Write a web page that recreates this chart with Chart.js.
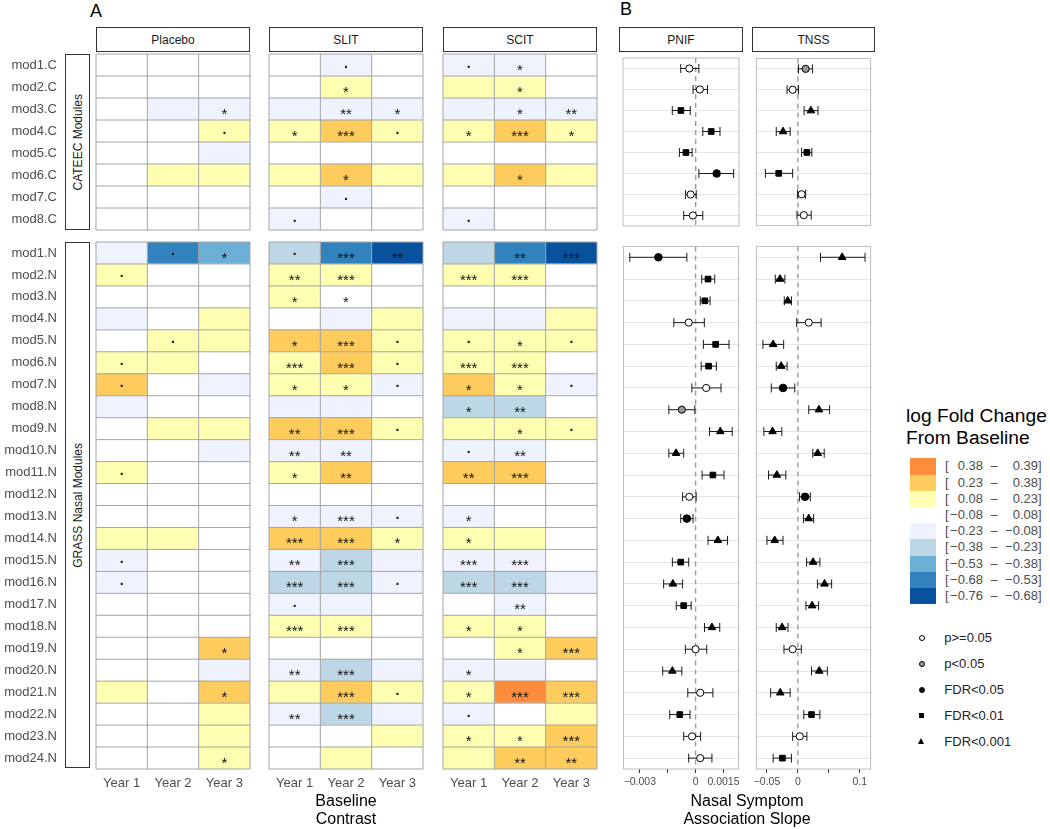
<!DOCTYPE html>
<html lang="en">
<head>
<meta charset="utf-8">
<title>Module fold change heatmap and nasal symptom association</title>
<script src="https://cdn.jsdelivr.net/npm/chart.js@4.4.1/dist/chart.umd.min.js"></script>
<style>
  html, body { margin:0; padding:0; background:#ffffff; }
  body { position:relative; width:1050px; height:829px; overflow:hidden;
         font-family:"Liberation Sans", Arial, Helvetica, sans-serif; }
  canvas { position:absolute; }
  .lbl { position:absolute; white-space:nowrap; }
  .strip { position:absolute; box-sizing:border-box; border:1.2px solid #333; background:#fff;
           display:flex; align-items:center; justify-content:center; font-size:12px; color:#1a1a1a; }
  .vstrip span { writing-mode:vertical-rl; transform:rotate(180deg); }
  .mk { position:absolute; box-sizing:border-box; }
</style>
</head>
<body>
<script>
// ---------------- DATA ----------------
const years = ['Year 1', 'Year 2', 'Year 3'];
const facets = ['Placebo', 'SLIT', 'SCIT'];
const rowsC = ['mod1.C','mod2.C','mod3.C','mod4.C','mod5.C','mod6.C','mod7.C','mod8.C'];
const rowsN = ['mod1.N','mod2.N','mod3.N','mod4.N','mod5.N','mod6.N','mod7.N','mod8.N',
               'mod9.N','mod10.N','mod11.N','mod12.N','mod13.N','mod14.N','mod15.N','mod16.N',
               'mod17.N','mod18.N','mod19.N','mod20.N','mod21.N','mod22.N','mod23.N','mod24.N'];

// log fold change from baseline: rows x [Year 1, Year 2, Year 3]
const placeboC = [
  [0.02, -0.03, 0.01], [0.03, 0.01, -0.02], [0.01, -0.12, -0.16], [0.04, 0.05, 0.14],
  [-0.02, 0.03, -0.10], [0.05, 0.12, 0.11], [0.00, 0.02, -0.03], [-0.04, 0.01, 0.02]];
const slitC = [
  [-0.05, -0.13, -0.02], [0.06, 0.16, 0.04], [-0.10, -0.18, -0.14], [0.15, 0.29, 0.13],
  [0.02, 0.04, 0.03], [0.12, 0.25, 0.10], [-0.03, -0.11, -0.04], [-0.12, -0.05, -0.02]];
const scitC = [
  [-0.11, -0.14, -0.05], [0.10, 0.17, 0.06], [-0.09, -0.16, -0.15], [0.17, 0.31, 0.16],
  [0.03, 0.05, 0.02], [0.11, 0.26, 0.12], [-0.01, 0.02, -0.03], [-0.13, -0.04, -0.01]];
const placeboN = [
  [-0.12, -0.61, -0.47], [0.13, 0.05, 0.03], [0.04, 0.02, 0.01], [-0.09, 0.04, 0.12],
  [0.06, 0.14, 0.13], [0.15, 0.10, 0.05], [0.27, 0.06, -0.10], [-0.10, -0.02, 0.01],
  [0.07, 0.12, 0.11], [0.01, -0.03, -0.09], [0.16, 0.04, 0.02], [0.02, -0.01, 0.03],
  [0.03, 0.00, 0.05], [0.11, 0.09, 0.04], [-0.13, -0.05, -0.02], [-0.14, -0.04, -0.03],
  [-0.03, -0.02, 0.02], [0.05, 0.04, 0.06], [0.03, 0.05, 0.28], [-0.04, -0.05, -0.11],
  [0.09, 0.06, 0.26], [0.02, 0.04, 0.15], [0.04, 0.06, 0.14], [0.05, 0.07, 0.17]];
const slitN = [
  [-0.27, -0.63, -0.74], [0.19, 0.21, 0.06], [0.13, 0.07, 0.02], [-0.06, -0.10, 0.09],
  [0.25, 0.31, 0.17], [0.22, 0.29, 0.14], [0.16, 0.15, -0.12], [-0.10, -0.12, -0.03],
  [0.28, 0.33, 0.15], [-0.17, -0.19, -0.05], [0.15, 0.25, 0.07], [0.02, 0.03, 0.01],
  [-0.14, -0.21, -0.13], [0.29, 0.32, 0.18], [-0.19, -0.27, -0.12], [-0.25, -0.30, -0.15],
  [-0.11, -0.10, -0.04], [0.20, 0.21, 0.05], [0.04, 0.06, 0.07], [-0.18, -0.28, -0.11],
  [0.13, 0.30, 0.14], [-0.20, -0.29, -0.13], [0.03, 0.06, 0.10], [0.05, 0.11, 0.04]];
const scitN = [
  [-0.29, -0.58, -0.70], [0.21, 0.20, 0.04], [0.06, 0.05, 0.02], [-0.09, -0.12, 0.10],
  [0.14, 0.18, 0.13], [0.19, 0.22, 0.07], [0.24, 0.17, -0.13], [-0.26, -0.31, -0.04],
  [0.13, 0.19, 0.16], [-0.14, -0.20, -0.06], [0.27, 0.32, 0.05], [0.01, 0.03, 0.02],
  [-0.12, -0.05, -0.02], [0.16, 0.14, 0.04], [-0.20, -0.22, -0.07], [-0.26, -0.28, -0.13],
  [-0.06, -0.17, -0.03], [0.17, 0.19, 0.05], [0.06, 0.20, 0.30], [-0.16, -0.15, -0.05],
  [0.20, 0.385, 0.33], [-0.11, 0.02, 0.12], [0.18, 0.21, 0.34], [0.15, 0.28, 0.31]];

// significance marks
const placeboCSig = [['','',''],['','',''],['','','*'],['','','.'],['','',''],['','',''],['','',''],['','','']];
const slitCSig = [['','.',''],['','*',''],['','**','*'],['*','***','.'],['','',''],['','*',''],['','.',''],['.','','']];
const scitCSig = [['.','*',''],['','*',''],['','*','**'],['*','***','*'],['','',''],['','*',''],['','',''],['.','','']];
const placeboNSig = [
  ['','.','*'],['.','',''],['','',''],['','',''],['','.',''],['.','',''],['.','',''],['','',''],
  ['','',''],['','',''],['.','',''],['','',''],['','',''],['','',''],['.','',''],['.','',''],
  ['','',''],['','',''],['','','*'],['','',''],['','','*'],['','',''],['','',''],['','','*']];
const slitNSig = [
  ['.','***','**'],['**','***',''],['*','*',''],['','',''],['*','***','.'],['***','***','.'],['*','*','.'],['','',''],
  ['**','***','.'],['**','**',''],['*','**',''],['','',''],['*','***','.'],['***','***','*'],['**','***',''],['***','***','.'],
  ['.','',''],['***','***',''],['','',''],['**','***',''],['','***','.'],['**','***',''],['','',''],['','','']];
const scitNSig = [
  ['','**','***'],['***','***',''],['','',''],['','',''],['.','*','.'],['***','***',''],['*','*','.'],['*','**',''],
  ['','*','.'],['.','**',''],['**','***',''],['','',''],['*','',''],['*','',''],['***','***',''],['***','***',''],
  ['','**',''],['*','*',''],['','*','***'],['*','',''],['*','***','***'],['.','',''],['*','*','***'],['','**','**']];

// colour bins
const binBreaks = [-0.76, -0.68, -0.53, -0.38, -0.23, -0.08, 0.08, 0.23, 0.38, 0.39];
const binColors = ['#08519C', '#3182BD', '#6BAED6', '#BDD7E7', '#EFF3FF', '#FFFFFF', '#FFFFB2', '#FECC5C', '#FD8D3C'];
const binLo = ['\u22120.76', '\u22120.68', '\u22120.53', '\u22120.38', '\u22120.23', '\u22120.08', '0.08', '0.23', '0.38'];
const binHi = ['\u22120.68', '\u22120.53', '\u22120.38', '\u22120.23', '\u22120.08', '0.08', '0.23', '0.38', '0.39'];

// Nasal symptom association slopes
const pnifC_est = [-0.00034, 0.00022, -0.00079, 0.00083, -0.00052, 0.00112, -0.00027, -0.00015];
const pnifC_lo  = [-0.00080, -0.00014, -0.00125, 0.00038, -0.00087, 0.00017, -0.00054, -0.00064];
const pnifC_hi  = [0.00017, 0.00063, -0.00029, 0.00130, -0.00019, 0.00203, 0.00003, 0.00038];
const pnifC_sig = ['ns','ns','fdr01','fdr01','fdr01','fdr05','ns','ns'];

const tnssC_est = [0.0125, -0.0085, 0.0210, -0.0240, 0.0145, -0.0310, 0.0060, 0.0095];
const tnssC_lo  = [0.0010, -0.0175, 0.0100, -0.0350, 0.0060, -0.0525, -0.0005, -0.0015];
const tnssC_hi  = [0.0235, 0.0010, 0.0325, -0.0125, 0.0225, -0.0085, 0.0125, 0.0215];
const tnssC_sig = ['p05','ns','fdr001','fdr001','fdr01','fdr01','ns','ns'];

const pnifN_est = [-0.00200, 0.00067, 0.00050, -0.00037, 0.00108, 0.00070, 0.00057, -0.00074,
                   0.00133, -0.00105, 0.00093, -0.00034, -0.00047, 0.00120, -0.00080, -0.00122,
                   -0.00064, 0.00088, 0.00000, -0.00125, 0.00025, -0.00085, -0.00019, 0.00025];
const pnifN_lo  = [-0.00354, 0.00033, 0.00025, -0.00117, 0.00042, 0.00030, -0.00020, -0.00144,
                   0.00075, -0.00144, 0.00035, -0.00070, -0.00080, 0.00067, -0.00125, -0.00172,
                   -0.00104, 0.00048, -0.00055, -0.00177, -0.00042, -0.00139, -0.00064, -0.00037];
const pnifN_hi  = [-0.00047, 0.00103, 0.00078, 0.00047, 0.00180, 0.00112, 0.00137, -0.00004,
                   0.00197, -0.00064, 0.00153, 0.00003, -0.00014, 0.00172, -0.00037, -0.00070,
                   -0.00024, 0.00130, 0.00060, -0.00074, 0.00093, -0.00030, 0.00027, 0.00088];
const pnifN_sig = ['fdr05','fdr01','fdr01','ns','fdr01','fdr01','ns','p05',
                   'fdr001','fdr001','fdr01','ns','fdr05','fdr001','fdr01','fdr001',
                   'fdr01','fdr001','ns','fdr001','ns','fdr01','ns','ns'];

const tnssN_est = [0.0715, -0.0290, -0.0165, 0.0175, -0.0400, -0.0270, -0.0240, 0.0340,
                   -0.0410, 0.0320, -0.0340, 0.0115, 0.0175, -0.0375, 0.0245, 0.0430,
                   0.0230, -0.0255, -0.0085, 0.0345, -0.0285, 0.0220, 0.0030, -0.0250];
const tnssN_lo  = [0.0365, -0.0365, -0.0220, -0.0020, -0.0565, -0.0350, -0.0430, 0.0175,
                   -0.0550, 0.0240, -0.0475, 0.0025, 0.0090, -0.0500, 0.0140, 0.0315,
                   0.0130, -0.0350, -0.0225, 0.0220, -0.0440, 0.0095, -0.0085, -0.0400];
const tnssN_hi  = [0.1085, -0.0210, -0.0105, 0.0375, -0.0230, -0.0175, -0.0050, 0.0510,
                   -0.0260, 0.0425, -0.0195, 0.0200, 0.0255, -0.0240, 0.0355, 0.0545,
                   0.0335, -0.0160, 0.0055, 0.0475, -0.0125, 0.0355, 0.0145, -0.0105];
const tnssN_sig = ['fdr001','fdr001','fdr001','ns','fdr001','fdr001','fdr05','fdr001',
                   'fdr001','fdr001','fdr001','fdr05','fdr001','fdr001','fdr001','fdr001',
                   'fdr001','fdr001','ns','fdr001','fdr001','fdr01','ns','fdr01'];

const pnifTicks = [-0.003, -0.0015, 0, 0.0015];
const pnifTickLabels = ['\u22120.003', '', '0', '0.0015'];
const tnssTicks = [-0.05, 0, 0.05, 0.1];
const tnssTickLabels = ['\u22120.05', '0', '', '0.1'];
const pnifRange = [-0.003885, 0.002315];
const tnssRange = [-0.06705, 0.11745];

const sigKeys = ['ns', 'p05', 'fdr05', 'fdr01', 'fdr001'];
const sigNames = ['p>=0.05', 'p<0.05', 'FDR<0.05', 'FDR<0.01', 'FDR<0.001'];

// ---------------- LAYOUT / STYLE ----------------
const FONT = '"Liberation Sans", Arial, Helvetica, sans-serif';
Chart.defaults.font.family = FONT;
Chart.defaults.animation = false;

const G = {
  facetLeft: [96, 269, 443], facetW: 154,
  cTop: 54, cH: 176, nTop: 242, nH: 526,
  stripTop: 27, stripH: 25,
  rowLabW: 96, rowLabGap: 39, xAxisH: 32,
  pnifLeft: 619, pnifW: 124, tnssLeft: 752, tnssW: 123
};
const markStyle = {
  ns:     { shape: 'circle',   fill: '#ffffff', r: 3.6 },
  p05:    { shape: 'circle',   fill: '#9a9a9a', r: 3.6 },
  fdr05:  { shape: 'circle',   fill: '#000000', r: 3.8 },
  fdr01:  { shape: 'rect',     fill: '#000000', r: 4.0 },
  fdr001: { shape: 'triangle', fill: '#000000', r: 4.4 }
};

function colorFor(v) {
  for (let i = 0; i < binColors.length; i++) {
    if (v <= binBreaks[i + 1]) return binColors[i];
  }
  return binColors[binColors.length - 1];
}

function mkCanvas(left, top, w, h) {
  const c = document.createElement('canvas');
  c.width = Math.round(w); c.height = Math.round(h);
  c.style.left = left + 'px'; c.style.top = top + 'px';
  c.style.width = Math.round(w) + 'px'; c.style.height = Math.round(h) + 'px';
  document.body.appendChild(c);
  return c;
}

function addDiv(cls, left, top, w, h, html, extra) {
  const d = document.createElement('div');
  d.className = cls;
  d.style.left = left + 'px'; d.style.top = top + 'px';
  if (w != null) d.style.width = w + 'px';
  if (h != null) d.style.height = h + 'px';
  if (html != null) d.innerHTML = html;
  if (extra) Object.assign(d.style, extra);
  document.body.appendChild(d);
  return d;
}

function fixSize(prop, size) {
  return s => {
    s[prop] = size;
    s.paddingTop = 0; s.paddingBottom = 0; s.paddingLeft = 0; s.paddingRight = 0;
  };
}

// ---------------- HEATMAP PANELS ----------------
function heatChart(left, top, w, h, rows, vals, sigs, showY, showX) {
  const yW = showY ? G.rowLabW : 0;
  const xH = showX ? G.xAxisH : 0;
  const cv = mkCanvas(left - yW - 1, top - 1, w + yW + 2, h + xH + 2);
  const datasets = years.map((yr, c) => ({
    label: yr,
    data: rows.map(() => [c, c + 1]),
    backgroundColor: rows.map((r, i) => colorFor(vals[i][c])),
    borderWidth: 0,
    grouped: false,
    barPercentage: 1,
    categoryPercentage: 1
  }));
  const cells = {
    id: 'cells',
    afterDatasetsDraw(chart) {
      const { ctx, chartArea: a, scales: { x, y } } = chart;
      ctx.save();
      ctx.strokeStyle = '#a4a4a4';
      ctx.lineWidth = 1;
      ctx.beginPath();
      for (let c = 0; c <= years.length; c++) {
        const px = x.getPixelForValue(c);
        ctx.moveTo(px, a.top); ctx.lineTo(px, a.bottom);
      }
      for (let r = 0; r <= rows.length; r++) {
        const py = a.top + (a.bottom - a.top) * r / rows.length;
        ctx.moveTo(a.left, py); ctx.lineTo(a.right, py);
      }
      ctx.stroke();
      ctx.fillStyle = '#111111';
      ctx.textAlign = 'center';
      ctx.textBaseline = 'alphabetic';
      rows.forEach((r, i) => {
        const cy = y.getPixelForValue(i);
        sigs[i].forEach((s, c) => {
          if (!s) return;
          const cx = x.getPixelForValue(c + 0.5);
          if (s === '.') {
            ctx.font = 'bold 14px ' + FONT;
            ctx.fillText('.', cx, cy + 2.5);
          } else {
            ctx.font = '15px ' + FONT;
            ctx.fillText(s, cx, cy + 10);
          }
        });
      });
      ctx.restore();
    }
  };
  new Chart(cv, {
    type: 'bar',
    data: { labels: rows, datasets },
    options: {
      indexAxis: 'y',
      responsive: false,
      animation: false,
      layout: { padding: { left: 1, right: 1, top: 1, bottom: showX ? 0 : 1 } },
      plugins: { legend: { display: false }, tooltip: { enabled: false } },
      scales: {
        y: {
          type: 'category', offset: true, display: showY,
          grid: { display: false, drawTicks: false },
          border: { display: false },
          ticks: { padding: G.rowLabGap, color: '#4d4d4d', font: { size: 13 } },
          afterFit: fixSize('width', yW)
        },
        x: {
          type: 'linear', min: 0, max: years.length, display: showX,
          afterBuildTicks: s => { s.ticks = years.map((_, c) => ({ value: c + 0.5 })); },
          grid: { display: false, drawTicks: false },
          border: { display: false },
          ticks: { callback: (v, i) => years[i], padding: 7, color: '#4d4d4d',
                   font: { size: 13 }, maxRotation: 0, autoSkip: false },
          afterFit: fixSize('height', xH)
        }
      }
    },
    plugins: [cells]
  });
}

// ---------------- FOREST PANELS ----------------
function forestChart(left, top, w, h, est, lo, hi, sig, range, ticks, tickLabels, showX) {
  const xH = showX ? G.xAxisH : 0;
  const cv = mkCanvas(left - 1, top - 1, w + 2, h + xH + 2);
  const deco = {
    id: 'forestDeco',
    beforeDatasetsDraw(chart) {
      const { ctx, chartArea: a, scales: { x, y } } = chart;
      ctx.save();
      ctx.strokeStyle = '#bdbdbd'; ctx.lineWidth = 1;
      ctx.strokeRect(a.left, a.top, a.right - a.left, a.bottom - a.top);
      const zx = x.getPixelForValue(0);
      ctx.strokeStyle = '#9c9c9c'; ctx.lineWidth = 1.4; ctx.setLineDash([5, 4]);
      ctx.beginPath(); ctx.moveTo(zx, a.top); ctx.lineTo(zx, a.bottom); ctx.stroke();
      ctx.setLineDash([]);
      ctx.strokeStyle = '#1a1a1a'; ctx.lineWidth = 1;
      ctx.beginPath();
      est.forEach((e, i) => {
        const py = y.getPixelForValue(i);
        const x1 = x.getPixelForValue(lo[i]);
        const x2 = x.getPixelForValue(hi[i]);
        ctx.moveTo(x1, py); ctx.lineTo(x2, py);
        ctx.moveTo(x1, py - 4.5); ctx.lineTo(x1, py + 4.5);
        ctx.moveTo(x2, py - 4.5); ctx.lineTo(x2, py + 4.5);
      });
      ctx.stroke();
      ctx.restore();
    }
  };
  new Chart(cv, {
    type: 'scatter',
    data: {
      datasets: [{
        data: est.map((v, i) => ({ x: v, y: i })),
        pointStyle: sig.map(s => markStyle[s].shape),
        pointRadius: sig.map(s => markStyle[s].r),
        pointBackgroundColor: sig.map(s => markStyle[s].fill),
        pointBorderColor: '#000000',
        pointBorderWidth: 1
      }]
    },
    options: {
      responsive: false,
      animation: false,
      layout: { padding: { left: 1, right: 1, top: 1, bottom: showX ? 0 : 1 } },
      plugins: { legend: { display: false }, tooltip: { enabled: false } },
      scales: {
        x: {
          type: 'linear', min: range[0], max: range[1], display: showX,
          afterBuildTicks: s => { s.ticks = ticks.map(v => ({ value: v })); },
          grid: { display: true, drawOnChartArea: false, drawTicks: true, tickLength: 4,
                  color: '#333333', lineWidth: 1 },
          border: { display: false },
          ticks: { callback: (v, i) => tickLabels[i], color: '#4d4d4d', font: { size: 10.5 },
                   padding: 3, maxRotation: 0, autoSkip: false },
          afterFit: fixSize('height', xH)
        },
        y: {
          type: 'linear', min: -0.5, max: est.length - 0.5, reverse: true,
          afterBuildTicks: s => { s.ticks = est.map((_, i) => ({ value: i })); },
          grid: { color: '#e6e6e6', lineWidth: 1, drawTicks: false },
          border: { display: false },
          ticks: { display: false },
          afterFit: fixSize('width', 0)
        }
      }
    },
    plugins: [deco]
  });
}

// ---------------- BUILD ----------------
const tablesC = [placeboC, slitC, scitC];
const tablesN = [placeboN, slitN, scitN];
const sigsC = [placeboCSig, slitCSig, scitCSig];
const sigsN = [placeboNSig, slitNSig, scitNSig];

facets.forEach((f, k) => {
  const L = G.facetLeft[k];
  addDiv('strip', L, G.stripTop, G.facetW, G.stripH, f);
  heatChart(L, G.cTop, G.facetW, G.cH, rowsC, tablesC[k], sigsC[k], k === 0, false);
  heatChart(L, G.nTop, G.facetW, G.nH, rowsN, tablesN[k], sigsN[k], k === 0, true);
});

addDiv('strip vstrip', 65, G.cTop, 25, G.cH, '<span>CATEEC Modules</span>');
addDiv('strip vstrip', 65, G.nTop, 25, G.nH, '<span>GRASS Nasal Modules</span>');

addDiv('strip', G.pnifLeft, G.stripTop, G.pnifW, G.stripH, 'PNIF');
addDiv('strip', G.tnssLeft, G.stripTop, G.tnssW, G.stripH, 'TNSS');
forestChart(G.pnifLeft, G.cTop, G.pnifW, G.cH, pnifC_est, pnifC_lo, pnifC_hi, pnifC_sig, pnifRange, pnifTicks, pnifTickLabels, false);
forestChart(G.pnifLeft, G.nTop, G.pnifW, G.nH, pnifN_est, pnifN_lo, pnifN_hi, pnifN_sig, pnifRange, pnifTicks, pnifTickLabels, true);
forestChart(G.tnssLeft, G.cTop, G.tnssW, G.cH, tnssC_est, tnssC_lo, tnssC_hi, tnssC_sig, tnssRange, tnssTicks, tnssTickLabels, false);
forestChart(G.tnssLeft, G.nTop, G.tnssW, G.nH, tnssN_est, tnssN_lo, tnssN_hi, tnssN_sig, tnssRange, tnssTicks, tnssTickLabels, true);

// panel letters and axis titles
addDiv('lbl', 90, 0, null, null, 'A', { fontSize: '18px', lineHeight: '22px', color: '#000' });
addDiv('lbl', 620, -2, null, null, 'B', { fontSize: '18px', lineHeight: '22px', color: '#000' });
addDiv('lbl', 266, 792, 160, null, 'Baseline<br>Contrast',
       { fontSize: '16px', lineHeight: '17.5px', textAlign: 'center', color: '#000' });
addDiv('lbl', 647, 792, 200, null, 'Nasal Symptom<br>Association Slope',
       { fontSize: '16px', lineHeight: '17.5px', textAlign: 'center', color: '#000' });

// colour legend
addDiv('lbl', 906, 405, null, null, 'log Fold Change<br>From Baseline',
       { fontSize: '19.2px', lineHeight: '21.5px', color: '#000' });
const swTop = 458.3, swH = 16.2;
for (let k = 0; k < binColors.length; k++) {
  const b = binColors.length - 1 - k;      // top row = highest bin
  const cy = swTop + swH * (k + 0.5);
  if (binColors[b] !== '#FFFFFF') {
    addDiv('mk', 910, swTop + swH * k, 26, swH + 0.4, null, { background: binColors[b] });
  }
  const st = { fontSize: '13px', lineHeight: '16px', color: '#4d4d4d' };
  addDiv('lbl', 945, cy - 8, null, null, '[', st);
  addDiv('lbl', 943, cy - 8, 40, null, binLo[b], Object.assign({ textAlign: 'right' }, st));
  addDiv('lbl', 989, cy - 8, 10, null, '\u2013', Object.assign({ textAlign: 'center' }, st));
  addDiv('lbl', 998, cy - 8, 40, null, binHi[b], Object.assign({ textAlign: 'right' }, st));
  addDiv('lbl', 1038, cy - 8, null, null, ']', st);
}

// shape legend
const shapeY = [638.3, 664.3, 690, 715.7, 741.5];
sigKeys.forEach((key, k) => {
  const cy = shapeY[k], cx = 921.7;
  const m = markStyle[key];
  if (m.shape === 'circle') {
    addDiv('mk', cx - 3, cy - 3, 6, 6, null,
           { borderRadius: '50%', border: '1px solid #000', background: m.fill });
  } else if (m.shape === 'rect') {
    addDiv('mk', cx - 2.7, cy - 2.7, 5.4, 5.4, null, { background: '#000' });
  } else {
    addDiv('mk', cx - 3.5, cy - 3.6, 0, 0, null,
           { borderLeft: '3.5px solid transparent', borderRight: '3.5px solid transparent',
             borderBottom: '6.2px solid #000' });
  }
  addDiv('lbl', 944.3, cy - 8, null, null, sigNames[k].replace('<', '&lt;').replace('>', '&gt;'),
         { fontSize: '13px', lineHeight: '16px', color: '#222' });
});
</script>
</body>
</html>
